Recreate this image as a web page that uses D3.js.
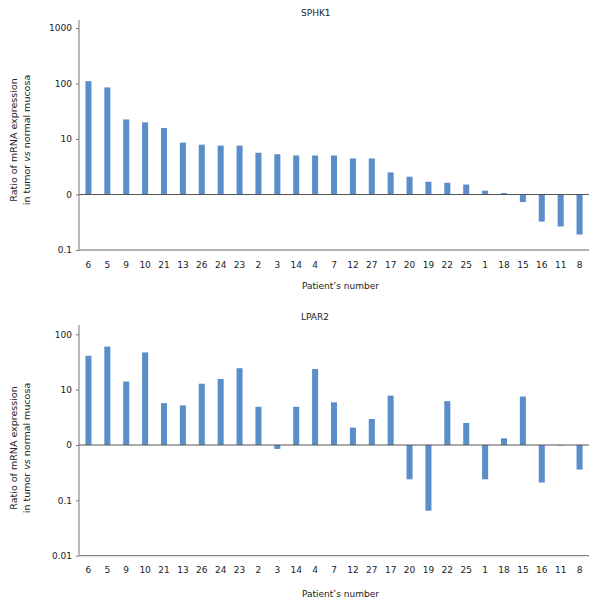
<!DOCTYPE html>
<html><head><meta charset="utf-8">
<script src="https://cdn.jsdelivr.net/npm/d3@7"></script>
<style>
body{margin:0;background:#fff;}
text{font-family:"DejaVu Sans",Verdana,sans-serif;fill:#222;}
</style></head>
<body><svg id="c" width="596" height="602"></svg>
<script>
const patientsTop = ["6","5","9","10","21","13","26","24","23","2","3","14","4","7","12","27","17","20","19","22","25","1","18","15","16","11","8"];
const sphk1Values = [110,85,22.5,20,15.8,8.6,7.9,7.6,7.6,5.65,5.3,5.05,5.05,5.05,4.46,4.46,2.5,2.09,1.70,1.63,1.51,1.17,1.06,0.73,0.325,0.265,0.19];
const patientsBottom = ["6","5","9","10","21","13","26","24","23","2","3","14","4","7","12","27","17","20","19","22","25","1","18","15","16","11","8"];
const lpar2Values = [41,60,14,47,5.7,5.2,12.8,15.6,24.4,4.9,0.85,4.9,23.6,5.9,2.06,2.95,7.8,0.24,0.065,6.2,2.5,0.24,1.32,7.5,0.21,0.98,0.36];
const topTicks = [1000,100,10,1,0.1];
const topTickLabels = ["1000","100","10","0","0.1"];
const bottomTicks = [100,10,1,0.1,0.01];
const bottomTickLabels = ["100","10","0","0.1","0.01"];

const svg = d3.select("#c");
const barColor = "#5b8dc9";

function panel(cfg){
  const g = svg.append("g");
  const x = d3.scaleBand().domain(cfg.cats.map((d,i)=>i)).range([79,589]).paddingInner(0.68).paddingOuter(0.34);
  const y = d3.scaleLog().domain(cfg.domain).range(cfg.yr);
  g.selectAll("rect.bar").data(cfg.vals).enter().append("rect")
    .attr("x",(d,i)=>x(i)).attr("width",x.bandwidth())
    .attr("y",d=>Math.min(y(d),y(1))).attr("height",d=>Math.abs(y(d)-y(1)))
    .attr("fill",barColor);
  g.append("line").attr("x1",79).attr("x2",589).attr("y1",y(1)).attr("y2",y(1))
    .attr("stroke","#555").attr("stroke-width",1);
  g.append("line").attr("x1",79).attr("x2",589).attr("y1",y(cfg.domain[0])).attr("y2",y(cfg.domain[0]))
    .attr("stroke","#666").attr("stroke-width",1);
  const ax = d3.axisLeft(y).tickValues(cfg.ticks).tickFormat((d,i)=>cfg.tickLabels[i]).tickSize(3).tickPadding(4);
  const ag = g.append("g").attr("transform","translate(79,0)").call(ax);
  ag.select(".domain").attr("d",`M0,${cfg.axisTop}V${y(cfg.domain[0])}`).attr("stroke","#777");
  ag.selectAll(".tick line").attr("stroke","#777");
  ag.selectAll("text").style("font-size","9px").attr("fill","#222").attr("font-family","DejaVu Sans");
  g.selectAll("text.cat").data(cfg.cats).enter().append("text")
    .attr("class","cat").attr("x",(d,i)=>x(i)+x.bandwidth()/2).attr("y",cfg.catY)
    .attr("text-anchor","middle").style("font-size","9px").text(d=>d);
  g.append("text").attr("x",301).attr("y",cfg.titleY).style("font-size","9px").text(cfg.title);
  g.append("text").attr("x",302).attr("y",cfg.xlabY).style("font-size","9px").text("Patient’s number");
  const yl = g.append("text").attr("transform",`translate(0,${cfg.ylabY}) rotate(-90)`)
    .attr("text-anchor","middle").style("font-size","9.5px");
  yl.append("tspan").attr("x",0).attr("y",17).text("Ratio of mRNA expression");
  const t2 = yl.append("tspan").attr("x",0).attr("y",30);
  t2.append("tspan").text("in tumor ");
  t2.append("tspan").style("font-style","italic").text("vs");
  t2.append("tspan").text(" normal mucosa");
}

panel({cats:patientsTop, vals:sphk1Values, domain:[0.1,1000], yr:[250,28], ticks:topTicks, tickLabels:topTickLabels,
  axisTop:20, catY:268, titleY:16, xlabY:289, title:"SPHK1", ylabY:140});
panel({cats:patientsBottom, vals:lpar2Values, domain:[0.01,100], yr:[555.7,334.3], ticks:bottomTicks, tickLabels:bottomTickLabels,
  axisTop:325, catY:573, titleY:320, xlabY:597, title:"LPAR2", ylabY:448});
</script></body></html>
